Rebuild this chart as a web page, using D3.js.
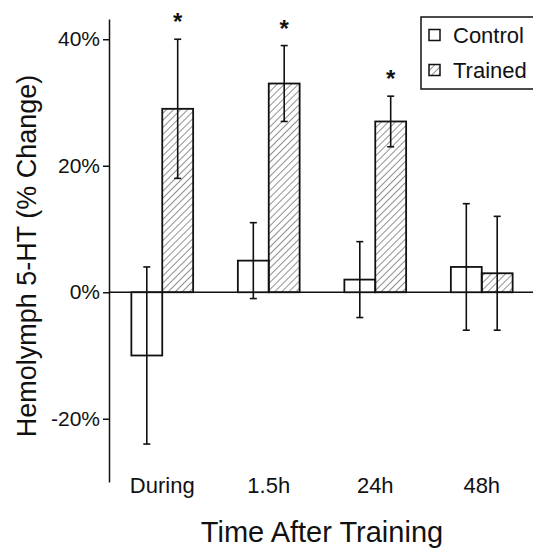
<!DOCTYPE html>
<html>
<head>
<meta charset="utf-8">
<script src="https://cdn.jsdelivr.net/npm/d3@7"></script>
<style>
  body { margin: 0; background: #fff; }
  text { font-family: "Liberation Sans", Arial, Helvetica, sans-serif; fill: #111; }
</style>
</head>
<body>
<div class="chart"></div>
<script>
const width = 533;
const height = 548;

// data (% change of hemolymph 5-HT)
const times = ["During", "1.5h", "24h", "48h"];
const groups = ["Control", "Trained"];
const controlMean = [-10, 5, 2, 4];
const controlErr = [14, 6, 6, 10];
const trainedMean = [29, 33, 27, 3];
const trainedErr = [11, 6, 4, 9];
const trainedSig = [true, true, true, false];
const yTicks = [-20, 0, 20, 40];

const svg = d3
  .select(".chart")
  .append("svg")
  .attr("width", width)
  .attr("height", height);

// hatch for trained bars
const defs = svg.append("defs");
defs
  .append("pattern")
  .attr("id", "hatch")
  .attr("patternUnits", "userSpaceOnUse")
  .attr("width", 5)
  .attr("height", 5)
  .attr("patternTransform", "rotate(45)")
  .append("line")
  .attr("x1", 0)
  .attr("y1", 0)
  .attr("x2", 0)
  .attr("y2", 5)
  .attr("stroke", "#222")
  .attr("stroke-width", 1);

const x = d3.scaleBand().domain(times).range([109, 535]).paddingInner(0.42).paddingOuter(0.21);
const xs = d3.scaleBand().domain(groups).range([0, x.bandwidth()]);
const y = d3.scaleLinear().domain([-30, 43.2]).range([482, 19]);

// y axis
const yAxis = svg
  .append("g")
  .attr("transform", "translate(109,0)")
  .call(
    d3.axisLeft(y)
      .tickValues(yTicks)
      .tickFormat((d) => d + "%")
      .tickSize(6)
      .tickSizeOuter(0)
      .tickPadding(3)
  );
yAxis.select(".domain").attr("stroke", "#111").attr("stroke-width", 1.5);
yAxis.selectAll(".tick line").attr("stroke", "#111").attr("stroke-width", 1.5);
yAxis.selectAll(".tick text").style("font-size", "21px").attr("fill", "#111");

// zero baseline
svg
  .append("line")
  .attr("x1", 109)
  .attr("x2", width)
  .attr("y1", y(0))
  .attr("y2", y(0))
  .attr("stroke", "#111")
  .attr("stroke-width", 1.5);

// rows per bar
const rows = [];
times.forEach((t, i) => {
  rows.push({ time: t, group: "Control", mean: controlMean[i], err: controlErr[i], sig: false });
  rows.push({ time: t, group: "Trained", mean: trainedMean[i], err: trainedErr[i], sig: trainedSig[i] });
});

const bar = svg
  .append("g")
  .selectAll("g")
  .data(rows)
  .enter()
  .append("g")
  .attr("transform", (d) => `translate(${x(d.time) + xs(d.group)},0)`);

bar
  .append("rect")
  .attr("x", 0)
  .attr("width", xs.bandwidth())
  .attr("y", (d) => y(Math.max(0, d.mean)))
  .attr("height", (d) => Math.abs(y(d.mean) - y(0)))
  .attr("fill", (d) => (d.group == "Trained" ? "url(#hatch)" : "#fff"))
  .attr("stroke", "#111")
  .attr("stroke-width", 1.8);

// error bars
const cx = xs.bandwidth() / 2;
bar
  .append("line")
  .attr("x1", cx)
  .attr("x2", cx)
  .attr("y1", (d) => y(d.mean + d.err))
  .attr("y2", (d) => y(d.mean - d.err))
  .attr("stroke", "#111")
  .attr("stroke-width", 1.6);

[1, -1].forEach((s) => {
  bar
    .append("line")
    .attr("x1", cx - 3.5)
    .attr("x2", cx + 3.5)
    .attr("y1", (d) => y(d.mean + s * d.err))
    .attr("y2", (d) => y(d.mean + s * d.err))
    .attr("stroke", "#111")
    .attr("stroke-width", 1.6);
});

// significance stars
bar
  .filter((d) => d.sig)
  .append("text")
  .attr("x", cx)
  .attr("y", (d) => y(d.mean + d.err) - 9)
  .style("text-anchor", "middle")
  .style("font-size", "24px")
  .style("font-weight", "bold")
  .text("*");

// category labels
svg
  .append("g")
  .selectAll("text")
  .data(times)
  .enter()
  .append("text")
  .attr("x", (d) => x(d) + x.bandwidth() / 2)
  .attr("y", 493)
  .style("text-anchor", "middle")
  .style("font-size", "22px")
  .text((d) => d);

// axis titles
svg
  .append("text")
  .attr("x", 322)
  .attr("y", 542)
  .style("text-anchor", "middle")
  .style("font-size", "29px")
  .text("Time After Training");

svg
  .append("text")
  .attr("transform", "translate(36,256) rotate(-90)")
  .style("text-anchor", "middle")
  .style("font-size", "27px")
  .text("Hemolymph 5-HT (% Change)");

// legend
const legend = svg.append("g").attr("transform", "translate(421,17)");
legend
  .append("rect")
  .attr("width", 120)
  .attr("height", 72)
  .attr("fill", "#fff")
  .attr("stroke", "#111")
  .attr("stroke-width", 1.5);

const item = legend
  .selectAll("g")
  .data(groups)
  .enter()
  .append("g")
  .attr("transform", (d, i) => `translate(8,${18 + i * 35})`);

item
  .append("rect")
  .attr("y", -5.5)
  .attr("width", 11)
  .attr("height", 11)
  .attr("fill", (d) => (d == "Trained" ? "url(#hatch)" : "#fff"))
  .attr("stroke", "#111")
  .attr("stroke-width", 1.5);

item
  .append("text")
  .attr("x", 24)
  .attr("y", 8)
  .style("font-size", "22px")
  .text((d) => d);
</script>
</body>
</html>
